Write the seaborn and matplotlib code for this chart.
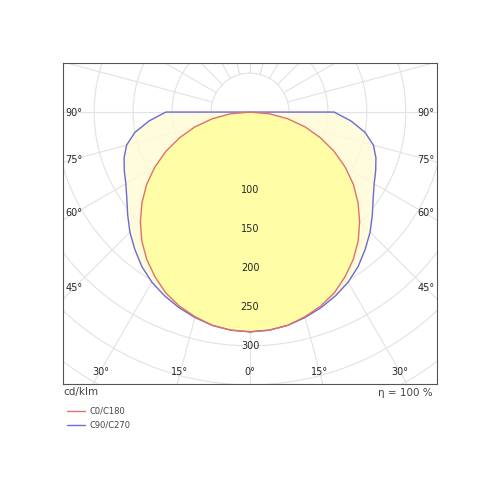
import numpy as np
import matplotlib
matplotlib.use("Agg")
import matplotlib.pyplot as plt
import seaborn as sns

angles = [0, 5, 10, 15, 20, 25, 30, 35, 40, 45, 50, 55, 60, 65, 70, 75, 80, 85, 90]
c0_values = [282, 281, 278, 272, 265, 256, 244, 231, 216, 199, 181, 162, 141, 119, 96, 73, 49, 25, 0]
c90_values = [282, 281, 278, 273, 267, 260, 252, 242, 230, 218, 205, 193, 184, 178, 172, 164, 150, 130, 108]
radial_labels = [100, 150, 200, 250, 300]
side_angles = [90, 75, 60, 45]
bottom_angles = [30, 15, 0, 15, 30]

sns.set_style("white")
fig = plt.figure(figsize=(5, 5), dpi=100)
ax = fig.add_axes([0.126, 0.232, 0.748, 0.642])

def curve(vals):
    a = np.radians(np.array(angles + [-x for x in angles[::-1]]))
    v = np.array(vals + vals[::-1])
    return v * np.sin(a), -v * np.cos(a)

for r in range(50, 501, 50):
    t = np.linspace(0, 2 * np.pi, 400)
    ax.plot(r * np.cos(t), r * np.sin(t), color="#e2e2e2", lw=0.8, zorder=1)
for d in range(0, 360, 15):
    a = np.radians(d)
    ax.plot([50 * np.cos(a), 600 * np.cos(a)], [50 * np.sin(a), 600 * np.sin(a)], color="#e2e2e2", lw=0.8, zorder=1)

xb, yb = curve(c90_values)
xr, yr = curve(c0_values)
ax.fill(xb, yb, color="#fffbd8", alpha=0.85, zorder=2)
ax.fill(xr, yr, color="#ffff9e", alpha=0.85, zorder=3)
sns.lineplot(x=xb, y=yb, sort=False, estimator=None, color="#6a6ad8", lw=1, ax=ax, zorder=4)
sns.lineplot(x=xr, y=yr, sort=False, estimator=None, color="#e07070", lw=1, ax=ax, zorder=5)

for v in radial_labels:
    ax.text(0, -v, str(v), ha="center", va="center", fontsize=7, zorder=6)
for a, yp in zip(side_angles, [-1, -61, -130, -226]):
    ax.text(-226, yp, f"{a}°", ha="center", va="center", fontsize=7, zorder=6)
    ax.text(226, yp, f"{a}°", ha="center", va="center", fontsize=7, zorder=6)
for a, xp in zip(bottom_angles, [-192, -90, 0, 89, 192]):
    ax.text(xp, -333, f"{a}°", ha="center", va="center", fontsize=7, zorder=6)

ax.set_xlim(-240, 240)
ax.set_ylim(-349, 63)
ax.set_aspect("equal")
ax.set_xticks([]); ax.set_yticks([])
for s in ax.spines.values():
    s.set_color("#555555"); s.set_linewidth(0.8)

fig.text(0.126, 0.215, "cd/klm", fontsize=7.5, color="#444444", va="center")
fig.text(0.866, 0.215, "η = 100 %", fontsize=7.5, color="#444444", va="center", ha="right")
fig.add_artist(plt.Line2D([0.134, 0.17], [0.178, 0.178], color="#e07070", lw=1))
fig.add_artist(plt.Line2D([0.134, 0.17], [0.15, 0.15], color="#6a6ad8", lw=1))
fig.text(0.178, 0.178, "C0/C180", fontsize=6, color="#444444", va="center")
fig.text(0.178, 0.15, "C90/C270", fontsize=6, color="#444444", va="center")

fig.savefig("out.png", dpi=100)
